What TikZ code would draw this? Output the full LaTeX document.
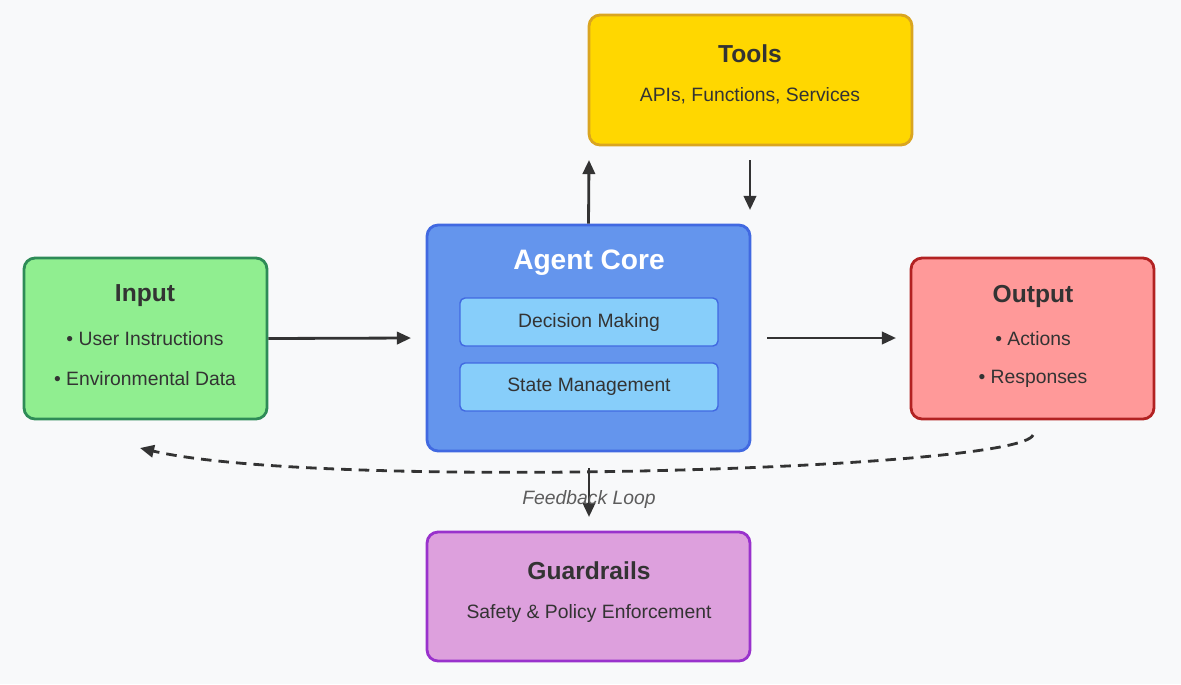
\documentclass[tikz,border=0pt]{standalone}
\usepackage{fontspec}
\setmainfont{Liberation Sans}
\usetikzlibrary{arrows.meta}
\definecolor{paper}{HTML}{F8F9FA}
\definecolor{ink}{HTML}{333333}
\definecolor{mint}{HTML}{90EE90}
\definecolor{seagreen}{HTML}{2E8B57}
\definecolor{cornflower}{HTML}{6495ED}
\definecolor{royal}{HTML}{4169E1}
\definecolor{skylight}{HTML}{87CEFA}
\definecolor{salmon}{HTML}{FF9999}
\definecolor{firebrick}{HTML}{B22222}
\definecolor{gold}{HTML}{FFD700}
\definecolor{goldenrod}{HTML}{DAA520}
\definecolor{plum}{HTML}{DDA0DD}
\definecolor{orchid}{HTML}{9932CC}
\tikzset{
  box/.style={draw, rounded corners=0.22cm, line width=1.6pt, minimum width=4.86cm, minimum height=3.22cm},
  inner/.style={draw=royal, fill=skylight, rounded corners=0.1cm, line width=0.8pt, minimum width=5.16cm, minimum height=0.96cm, text=ink, font=\fontsize{11}{13}\selectfont},
  title/.style={text=ink, font=\bfseries\fontsize{14}{16}\selectfont},
  body/.style={text=ink, font=\fontsize{11}{13}\selectfont},
  flow/.style={draw=ink, line width=1.6pt, -{Triangle[length=8pt,width=7pt]}}
}
\begin{document}
\begin{tikzpicture}[x=0.02cm, y=-0.02cm]
        \fill[paper] (0,0) rectangle (1181,684);
        % boxes
        \node[box, draw=seagreen, fill=mint]                                      (input)  at ( 145.5,338.5) {};
        \node[box, draw=royal, fill=cornflower, minimum width=6.46cm, minimum height=4.52cm] (core)   at ( 588.5,338)   {};
        \node[box, draw=firebrick, fill=salmon]                                   (output) at (1032.5,338.5) {};
        \node[box, draw=goldenrod, fill=gold, minimum width=6.46cm, minimum height=2.6cm]    (tools)  at ( 750.5, 80)   {};
        \node[box, draw=orchid, fill=plum, minimum width=6.46cm, minimum height=2.58cm]      (guard)  at ( 588.5,596.5) {};
        % texts
        \node[title]              (inputT)  at ( 145,296) {Input};
        \node[body]               (inputA)  at ( 145,339) {• User Instructions};
        \node[body]               (inputB)  at ( 145,379) {• Environmental Data};
        \node[title, text=white, font=\bfseries\fontsize{16}{18}\selectfont] (coreT) at (589,263) {Agent Core};
        \node[inner]              (decide)  at ( 589,322) {Decision Making};
        \node[inner]              (state)   at ( 589,387) {State Management};
        \node[title]              (outputT) at (1033,296) {Output};
        \node[body]               (outputA) at (1033,339) {• Actions};
        \node[body]               (outputB) at (1033,379) {• Responses};
        \node[title]              (toolsT)  at ( 750, 54) {Tools};
        \node[body]               (toolsA)  at ( 750, 96) {APIs, Functions, Services};
        \node[title]              (guardT)  at ( 589,571) {Guardrails};
        \node[body]               (guardA)  at ( 589,613) {Safety \& Policy Enforcement};
        % arrow ends
        \coordinate (coreIn)   at ( 411,338);
        \coordinate (coreOut)  at ( 767,338);
        \coordinate (outIn)    at ( 896,338);
        \coordinate (toolsIn)  at ( 589,160);
        \coordinate (toolsOut) at ( 750,160);
        \coordinate (coreTop)  at ( 750,210);
        \coordinate (coreLow)  at ( 589,468);
        \coordinate (guardIn)  at ( 589,517);
        \coordinate (loopA)    at (1033,435);
        \coordinate (loopB)    at ( 140,448);
        % connectors
        \draw[flow] (input.east) -- (coreIn);
        \draw[flow] (coreOut) -- (outIn);
        \draw[flow] (core.north) -- (toolsIn);
        \draw[flow] (toolsOut) -- (coreTop);
        \draw[flow] (coreLow) -- (guardIn);
        \draw[flow, dashed, dash pattern=on 6pt off 4pt] (loopA) .. controls (1020,470) and (320,490) .. (loopB);
        \node[text=ink!80, font=\itshape\fontsize{11}{13}\selectfont] (loopT) at (589,499) {Feedback Loop};
\end{tikzpicture}
\end{document}
